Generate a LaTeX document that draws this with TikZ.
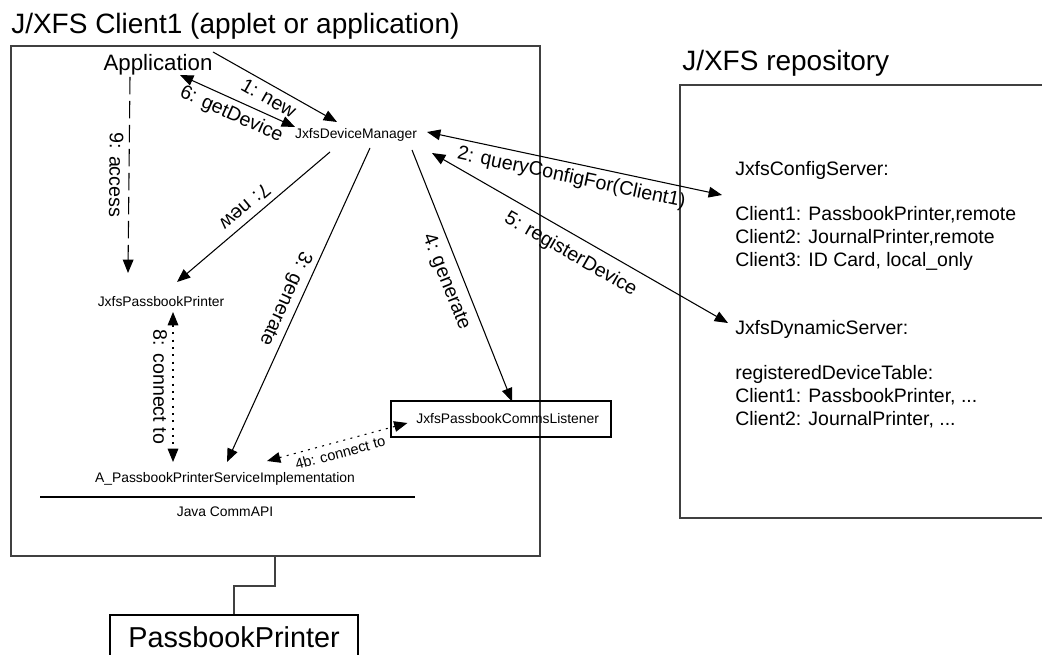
\documentclass[tikz,border=0pt]{standalone}
\usepackage{fontspec}
\setmainfont{Liberation Sans}
\usepackage{tikz}
\usetikzlibrary{calc, arrows.meta, positioning}

\begin{document}
\begin{tikzpicture}[
        x=0.75pt, y=-0.75pt,
        frame/.style={draw=black!75, line width=0.8pt},
        call/.style={draw, line width=0.8pt, -{Triangle[length=10pt,width=8pt]}},
        both/.style={draw, line width=0.8pt, {Triangle[length=10pt,width=8pt]}-{Triangle[length=10pt,width=8pt]}},
        lbl/.style={font=\fontsize{14.7}{17}\selectfont, sloped, allow upside down, midway, below=3pt, inner sep=1pt},
        small/.style={font=\fontsize{10.4}{12}\selectfont, inner sep=0pt},
        big/.style={font=\fontsize{21}{24}\selectfont, inner sep=0pt}
    ]
    \useasboundingbox (0,0) rectangle (1042,655);

    % the two frames
    \draw[frame] (11,46) rectangle (540,556);
    \draw[frame] (680,85) rectangle (1060,518);
    \node[big, anchor=base west] (clienttitle) at (11,34) {J/XFS Client1 (applet or application)};
    \node[big, anchor=base west] (repotitle) at (682,71) {J/XFS repository};

    % client side
    \node[font=\fontsize{16.7}{20}\selectfont, inner sep=0pt] (app) at (158,65) {Application};
    \node[small] (devmgr) at (356,135) {JxfsDeviceManager};
    \node[small] (pbprinter) at (161,302) {JxfsPassbookPrinter};
    \node[small] (pbservice) at (225,479) {A\_PassbookPrinterServiceImplementation};
    \node[small, draw, line width=0.8pt, minimum width=165pt, minimum height=27pt, inner xsep=19pt, text width=127pt, align=left] (listener) at (501,419) {JxfsPassbookCommsListener};
    \node[small] (commapi) at (225,512) {Java CommAPI};
    \draw[line width=1.5pt] (40,497) -- (415,497);

    % repository side
    \node[anchor=north west, align=left, inner sep=0pt, font=\fontsize{14.6}{17.1}\selectfont] (cfgsrv) at (735,161) {JxfsConfigServer:\\[17.1pt]
        Client1: PassbookPrinter,remote\\
        Client2: JournalPrinter,remote\\
        Client3: ID Card, local\_only};
    \node[anchor=north west, align=left, inner sep=0pt, font=\fontsize{14.6}{17.1}\selectfont] (dynsrv) at (735,320) {JxfsDynamicServer:\\[17.1pt]
        registeredDeviceTable:\\
        Client1: PassbookPrinter, ...\\
        Client2: JournalPrinter, ...};

    % the device
    \node[draw, line width=0.8pt, minimum width=186pt, minimum height=33.75pt, inner sep=0pt, font=\fontsize{21.6}{24}\selectfont] (printer) at (234,637.5) {PassbookPrinter};
    \coordinate (clientbottom) at (275,556);
    \draw[black!75, line width=0.8pt] (clientbottom) -- ++(0,30) -| (printer.north);

    % messages
    \draw[call] ($(app.center)+(55,-13)$) -- node[lbl] {1: new} ($(devmgr.center)+(-19,-13)$);
    \draw[both] ($(app.center)+(22,10)$) -- node[lbl] {6: getDevice} ($(devmgr.center)+(-61,-8)$);
    \draw[call, dash pattern=on 13pt off 5pt] ($(app.center)+(-28,12)$) -- node[lbl] {9: access} ($(pbprinter.center)+(-33,-29)$);
    \draw[call] ($(devmgr.center)+(-26,17)$) -- node[lbl] {7: new} ($(pbprinter.center)+(16,-20)$);
    \draw[call] ($(devmgr.center)+(14,13)$) -- node[lbl] {3: generate} ($(pbservice.center)+(2,-17)$);
    \draw[call] ($(devmgr.center)+(56,15)$) -- node[lbl, below=5pt] {4: generate} ($(listener.north)+(11,1)$);
    \draw[both] ($(devmgr.center)+(71,-3)$) -- node[lbl] {2: queryConfigFor(Client1)} ($(cfgsrv.north west)+(-13,34)$);
    \draw[both] ($(devmgr.center)+(76,18)$) -- node[lbl, below=6pt] {5: registerDevice} ($(dynsrv.north west)+(-7,3)$);
    \draw[both, dash pattern=on 1.5pt off 4pt] ($(pbprinter.center)+(12,10)$) -- node[lbl] {8: connect to} ($(pbservice.center)+(-52,-17)$);
    \draw[both, dash pattern=on 1.5pt off 4pt] ($(pbservice.center)+(42,-18)$) -- node[lbl, font=\fontsize{10.9}{12}\selectfont] {4b: connect to} ($(listener.west)+(17,4)$);
\end{tikzpicture}
\end{document}
